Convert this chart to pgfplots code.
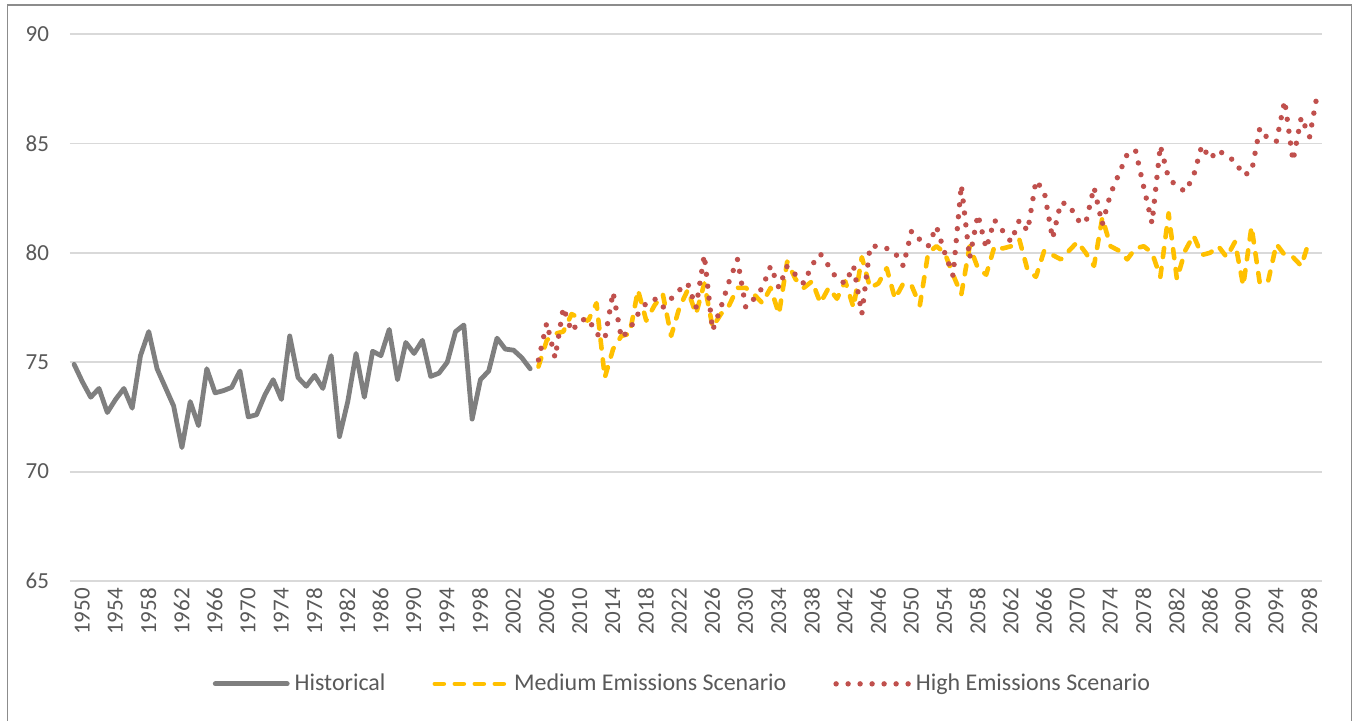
\documentclass[border=0pt]{standalone}
\usepackage{fontspec}
\setmainfont{Carlito}
\usepackage{pgfplots}
\pgfplotsset{compat=1.18}

\definecolor{histgray}{HTML}{7F7F7F}
\definecolor{medyel}{HTML}{FFC000}
\definecolor{highred}{HTML}{C0504D}
\definecolor{gridgray}{HTML}{D9D9D9}
\definecolor{txtgray}{HTML}{595959}
\definecolor{framegray}{HTML}{8C8C8C}

\begin{document}
\begin{tikzpicture}
\begin{axis}[
    at={(0,0)}, anchor=south west,
    scale only axis,
    width=626pt, height=273.5pt,
    xmin=1949.5, xmax=2100.5,
    ymin=65, ymax=90,
    xtick={1950,1954,...,2098},
    ytick={65,70,...,90},
    ymajorgrids,
    grid style={gridgray, line width=0.9pt},
    axis line style={draw=none},
    major tick length=0pt,
    /pgf/number format/.cd, 1000 sep={}, assume math mode=true,
    /pgfplots/.cd,
    tick label style={font=\fontsize{11.5}{13}\selectfont, text=txtgray},
    yticklabel style={xshift=-7pt},
    xticklabel style={rotate=90, anchor=east, yshift=-4pt},
    legend style={at={(0.4904,-0.188)}, anchor=center, draw=none, fill=none,
        font=\fontsize{12}{14}\selectfont, text=txtgray,
        /tikz/every even column/.append style={column sep=21pt},
        nodes={inner xsep=2.5pt}},
    legend columns=3,
    legend image code/.code={\draw[#1] (0pt,0pt) -- (36pt,0pt);},
]
\addplot[histgray, line width=2.4pt, line join=round, line cap=round] coordinates {
(1950,74.9) (1951,74.1) (1952,73.4) (1953,73.8) (1954,72.7) (1955,73.3)
(1956,73.8) (1957,72.9) (1958,75.3) (1959,76.4) (1960,74.7) (1961,73.85)
(1962,73.0) (1963,71.1) (1964,73.2) (1965,72.1) (1966,74.7) (1967,73.6)
(1968,73.7) (1969,73.85) (1970,74.6) (1971,72.5) (1972,72.6) (1973,73.5)
(1974,74.2) (1975,73.3) (1976,76.2) (1977,74.3) (1978,73.9) (1979,74.4)
(1980,73.8) (1981,75.3) (1982,71.6) (1983,73.2) (1984,75.4) (1985,73.4)
(1986,75.5) (1987,75.3) (1988,76.5) (1989,74.2) (1990,75.9) (1991,75.4)
(1992,76.0) (1993,74.35) (1994,74.5) (1995,75.0) (1996,76.4) (1997,76.7)
(1998,72.4) (1999,74.2) (2000,74.6) (2001,76.1) (2002,75.6) (2003,75.55)
(2004,75.2) (2005,74.7)
};
\addlegendentry{Historical}

\addplot[medyel, line width=2.3pt, line cap=round, line join=round, dash pattern=on 4.5pt off 5.5pt] coordinates {
(2006,74.8) (2007,76.0) (2008,76.3) (2009,76.4) (2010,77.2) (2011,77.0)
(2012,76.9) (2013,77.7) (2014,74.3) (2015,75.6) (2016,76.2) (2017,76.3)
(2018,78.3) (2019,76.9) (2020,77.6) (2021,78.1) (2022,76.2) (2023,77.5)
(2024,78.3) (2025,77.2) (2026,78.6) (2027,76.6) (2028,77.2) (2029,77.6)
(2030,78.4) (2031,78.4) (2032,78.1) (2033,77.7) (2034,78.4) (2035,77.2)
(2036,79.6) (2037,78.8) (2038,78.4) (2039,78.7) (2040,77.7) (2041,78.4)
(2042,77.9) (2043,78.7) (2044,77.5) (2045,79.8) (2046,78.4) (2047,78.6)
(2048,79.3) (2049,77.9) (2050,78.6) (2051,78.5) (2052,77.6) (2053,80.0)
(2054,80.3) (2055,80.0) (2056,79.0) (2057,78.1) (2058,80.3) (2059,79.3)
(2060,79.0) (2061,80.3) (2062,80.2) (2063,80.3) (2064,80.6) (2065,79.2)
(2066,78.9) (2067,80.1) (2068,79.9) (2069,79.7) (2070,80.1) (2071,80.5)
(2072,80.0) (2073,79.4) (2074,81.6) (2075,80.3) (2076,80.1) (2077,79.7)
(2078,80.2) (2079,80.3) (2080,80.0) (2081,78.9) (2082,81.8) (2083,78.8)
(2084,80.1) (2085,80.8) (2086,79.9) (2087,80.0) (2088,80.3) (2089,79.8)
(2090,80.5) (2091,78.5) (2092,81.2) (2093,78.6) (2094,78.7) (2095,80.4)
(2096,79.9) (2097,79.8) (2098,79.4) (2099,80.6)
};
\addlegendentry{Medium Emissions Scenario}

\addplot[highred, line width=2.7pt, line cap=round, dash pattern=on 0pt off 6pt] coordinates {
(2006,75.1) (2007,76.8) (2008,75.2) (2009,77.5) (2010,76.4) (2011,76.9)
(2012,77.0) (2013,76.3) (2014,76.05) (2015,78.2) (2016,76.1) (2017,76.5)
(2018,77.2) (2019,77.7) (2020,77.9) (2021,77.5) (2022,77.9) (2023,78.3)
(2024,78.6) (2025,77.5) (2026,79.9) (2027,76.45) (2028,77.5) (2029,78.7)
(2030,79.7) (2031,77.5) (2032,77.9) (2033,78.4) (2034,79.4) (2035,78.4)
(2036,79.4) (2037,79.0) (2038,78.6) (2039,79.45) (2040,79.95) (2041,79.4)
(2042,78.8) (2043,78.6) (2044,79.4) (2045,77.2) (2046,80.3) (2047,80.3)
(2048,80.2) (2049,80.0) (2050,79.4) (2051,81.0) (2052,80.6) (2053,80.3)
(2054,81.2) (2055,80.0) (2056,78.95) (2057,83.1) (2058,79.75) (2059,81.75)
(2060,80.2) (2061,81.5) (2062,81.0) (2063,80.5) (2064,81.5) (2065,81.0)
(2066,83.3) (2067,82.8) (2068,80.65) (2069,82.3) (2070,82.2) (2071,81.5)
(2072,81.35) (2073,83.0) (2074,81.3) (2075,82.7) (2076,83.6) (2077,84.5)
(2078,84.7) (2079,83.0) (2080,81.35) (2081,84.9) (2082,83.4) (2083,83.05)
(2084,82.8) (2085,83.5) (2086,84.9) (2087,84.3) (2088,84.7) (2089,84.4)
(2090,84.2) (2091,83.55) (2092,83.7) (2093,85.7) (2094,85.2) (2095,85.1)
(2096,86.95) (2097,84.2) (2098,86.2) (2099,85.3) (2100,87.4)
};
\addlegendentry{High Emissions Scenario}
\end{axis}
\pgfresetboundingbox
\useasboundingbox (-35pt,-69.5pt) rectangle (643pt,290.5pt);
\draw[framegray, line width=0.75pt] (-31.35pt,-75pt) -- (-31.35pt,288pt) -- (640.85pt,288pt) -- (640.85pt,-75pt);
\end{tikzpicture}
\end{document}
